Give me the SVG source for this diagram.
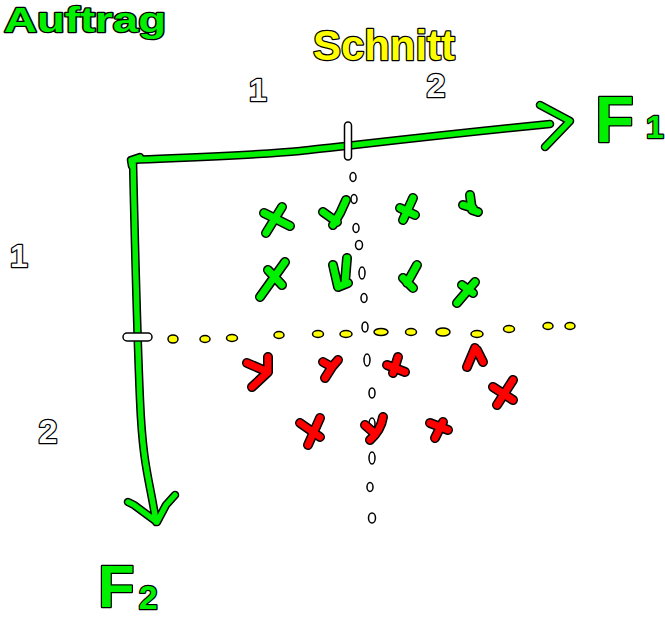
<svg xmlns="http://www.w3.org/2000/svg" width="665" height="619" viewBox="0 0 665 619">
<style>
.o{fill:none;stroke:#000;stroke-width:10;stroke-linecap:round;stroke-linejoin:round}
.g{fill:none;stroke:#00f000;stroke-width:7;stroke-linecap:round;stroke-linejoin:round}
.r{fill:none;stroke:#f00;stroke-width:7;stroke-linecap:round;stroke-linejoin:round}
.ao{fill:none;stroke:#000;stroke-width:8.5;stroke-linecap:round;stroke-linejoin:round}
.ag{fill:none;stroke:#00f000;stroke-width:5.5;stroke-linecap:round;stroke-linejoin:round}
.yd{fill:#ffff00;stroke:#000;stroke-width:1.5}
.wd{fill:#fff;stroke:#000;stroke-width:1.5}
.t{font-family:"Liberation Sans",Arial,sans-serif;font-weight:bold;paint-order:stroke;stroke:#000;stroke-width:2.5;stroke-linejoin:round}
.tg{fill:#00f000}
.ty{fill:#ffff00}
.tw{fill:#fff;stroke-width:2.5}
</style>
<rect width="665" height="619" fill="#fff"/>

<g id="labels">
<text id="auftrag" class="t tg" x="4" y="32" font-size="35" textLength="162" lengthAdjust="spacingAndGlyphs">Auftrag</text>
<text id="schnitt" class="t ty" x="313" y="60" font-size="42" textLength="142" lengthAdjust="spacingAndGlyphs">Schnitt</text>
<text id="col1" class="t tw" x="258" y="101" font-size="32" text-anchor="middle">1</text>
<text id="col2" class="t tw" x="436" y="97" font-size="34" text-anchor="middle">2</text>
<text id="row1" class="t tw" x="19" y="267" font-size="32" text-anchor="middle">1</text>
<text id="row2" class="t tw" x="48" y="443" font-size="34" text-anchor="middle">2</text>
<text id="f1" class="t tg" x="595" y="142" font-size="64">F<tspan font-size="32" dx="12" dy="-4">1</tspan></text>
<text id="f2" class="t tg" x="98" y="607" font-size="60">F<tspan font-size="34" dx="4" dy="2">2</tspan></text>
</g>

<g id="connectors">
<g id="dots-yellow">
<ellipse class="yd" cx="173" cy="339" rx="5" ry="4"/>
<ellipse class="yd" cx="205" cy="339" rx="5" ry="3.5"/>
<ellipse class="yd" cx="232" cy="338" rx="5.5" ry="3.5"/>
<ellipse class="yd" cx="279" cy="335" rx="5" ry="3.5"/>
<ellipse class="yd" cx="318" cy="334" rx="5.5" ry="3.5"/>
<ellipse class="yd" cx="346" cy="334" rx="6" ry="3.5"/>
<ellipse class="yd" cx="381" cy="332" rx="7" ry="3.5"/>
<ellipse class="yd" cx="411" cy="332" rx="5.5" ry="3.5"/>
<ellipse class="yd" cx="443" cy="332" rx="7" ry="4"/>
<ellipse class="yd" cx="477" cy="334" rx="6" ry="3.5"/>
<ellipse class="yd" cx="509" cy="329" rx="5.5" ry="3.5"/>
<ellipse class="yd" cx="548" cy="326" rx="5" ry="3.5"/>
<ellipse class="yd" cx="570" cy="326" rx="5" ry="3.5"/>
</g>
<g id="dots-white">
<ellipse class="wd" cx="353" cy="177" rx="3" ry="4.5"/>
<ellipse class="wd" cx="354" cy="199" rx="3" ry="4.5"/>
<ellipse class="wd" cx="356" cy="228" rx="3" ry="4.5"/>
<ellipse class="wd" cx="359" cy="245" rx="3.5" ry="4.5"/>
<ellipse class="wd" cx="362" cy="273" rx="3" ry="6"/>
<ellipse class="wd" cx="364" cy="298" rx="3" ry="4.5"/>
<ellipse class="wd" cx="365" cy="327" rx="3" ry="5"/>
<ellipse class="wd" cx="367" cy="360" rx="3" ry="6"/>
<ellipse class="wd" cx="372" cy="393" rx="3" ry="5"/>
<ellipse class="wd" cx="372" cy="424" rx="3" ry="6"/>
<ellipse class="wd" cx="372" cy="458" rx="3" ry="6"/>
<ellipse class="wd" cx="370" cy="487" rx="3" ry="4.5"/>
<ellipse class="wd" cx="372" cy="518" rx="3.5" ry="5"/>
</g>
</g>

<g id="axes">
<path class="ao" d="M133,160 C200,157 260,155 300,151 S420,137 550,124 M540,105 L570,121 L545,147 M132,166 L131,160 L140,157 M133,160 C135,250 137,330 140,400 S150,480 156,522 M128,502 L134,505 L157,522 L166,505 L175,495"/>
<path class="ag" d="M133,160 C200,157 260,155 300,151 S420,137 550,124 M540,105 L570,121 L545,147 M132,166 L131,160 L140,157 M133,160 C135,250 137,330 140,400 S150,480 156,522 M128,502 L134,505 L157,522 L166,505 L175,495"/>
<rect id="tick-f1" class="wd" x="344.5" y="122" width="7" height="38" rx="3.5"/>
<rect id="tick-f2" class="wd" x="123" y="333" width="29" height="8" rx="4"/>
</g>

<g id="green-marks">
<g id="g1"><path class="o" d="M264,213 L290,226 M282,207 L266,233"/><path class="g" d="M264,213 L290,226 M282,207 L266,233"/></g>
<g id="g2"><path class="o" d="M323,212 L337,222 M346,200 Q341,213 333,225"/><path class="g" d="M323,212 L337,222 M346,200 Q341,213 333,225"/></g>
<g id="g3"><path class="o" d="M400,208 L415,215 M413,198 L403,220"/><path class="g" d="M400,208 L415,215 M413,198 L403,220"/></g>
<g id="g4"><path class="o" d="M470,195 L472,210 L478,212 M463,205 L473,208"/><path class="g" d="M470,195 L472,210 L478,212 M463,205 L473,208"/></g>
<g id="g5"><path class="o" d="M260,297 L285,262 M268,270 L282,285"/><path class="g" d="M260,297 L285,262 M268,270 L282,285"/></g>
<g id="g6"><path class="o" d="M333,265 L338,287 L348,283 M347,258 L345,282"/><path class="g" d="M333,265 L338,287 L348,283 M347,258 L345,282"/></g>
<g id="g7"><path class="o" d="M417,265 L407,283 M403,278 L413,288"/><path class="g" d="M417,265 L407,283 M403,278 L413,288"/></g>
<g id="g8"><path class="o" d="M475,282 L457,303 M462,285 L473,293"/><path class="g" d="M475,282 L457,303 M462,285 L473,293"/></g>
</g>

<g id="red-marks">
<g id="r1"><path class="o" d="M268,357 L268,372 L252,387 M247,363 L268,372"/><path class="r" d="M268,357 L268,372 L252,387 M247,363 L268,372"/></g>
<g id="r2"><path class="o" d="M323,362 L332,367 L338,360 M332,367 L325,378"/><path class="r" d="M323,362 L332,367 L338,360 M332,367 L325,378"/></g>
<g id="r3"><path class="o" d="M387,365 L405,372 M398,357 L393,373"/><path class="r" d="M387,365 L405,372 M398,357 L393,373"/></g>
<g id="r4"><path class="o" d="M475,348 L467,367 M477,350 L483,362"/><path class="r" d="M475,348 L467,367 M477,350 L483,362"/></g>
<g id="r5"><path class="o" d="M513,380 L497,405 M493,387 L513,400"/><path class="r" d="M513,380 L497,405 M493,387 L513,400"/></g>
<g id="r6"><path class="o" d="M320,418 L308,445 M300,423 L320,437"/><path class="r" d="M320,418 L308,445 M300,423 L320,437"/></g>
<g id="r7"><path class="o" d="M383,417 Q381,430 370,440 M365,425 L373,432"/><path class="r" d="M383,417 Q381,430 370,440 M365,425 L373,432"/></g>
<g id="r8"><path class="o" d="M430,423 L448,430 M443,422 L435,438"/><path class="r" d="M430,423 L448,430 M443,422 L435,438"/></g>
</g>
</svg>
